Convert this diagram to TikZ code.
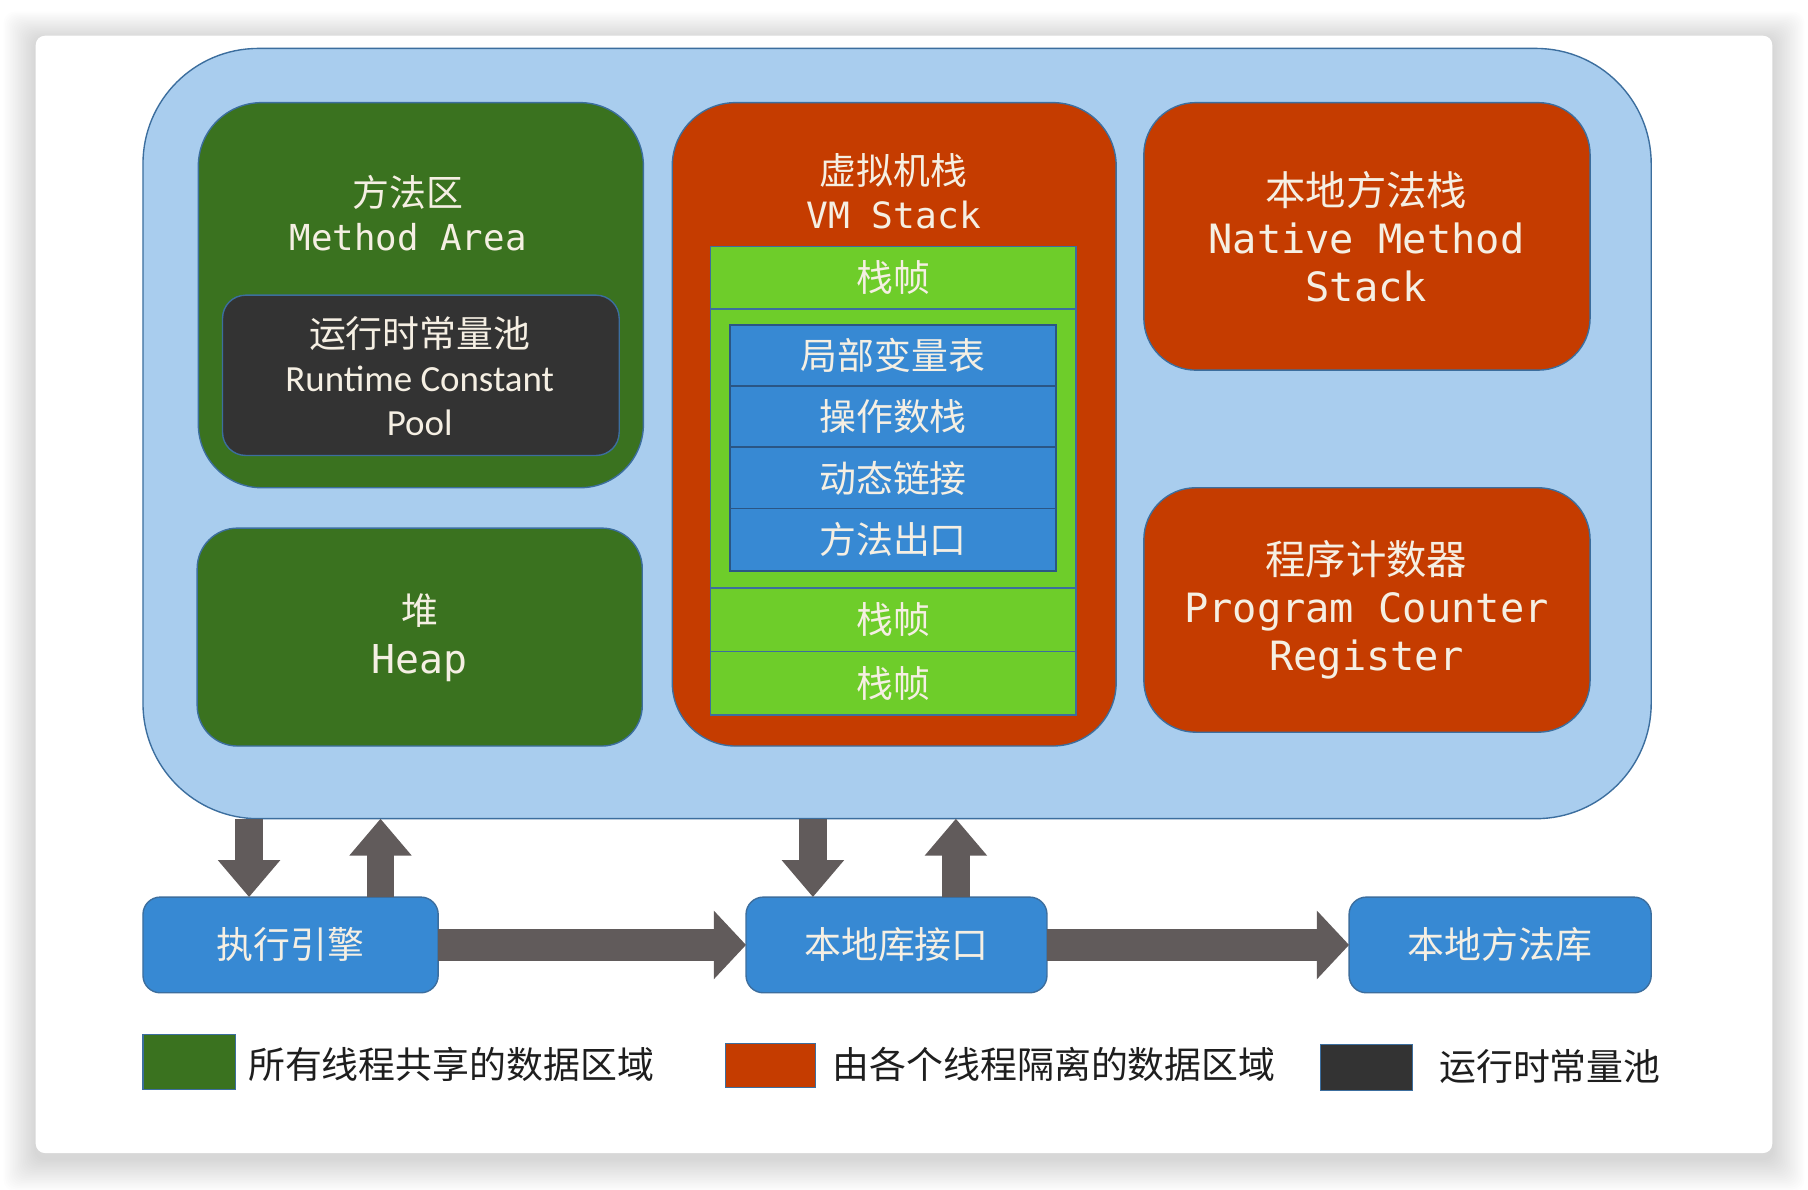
\documentclass[tikz,border=0pt]{standalone}
\usepackage{fontspec}
\newfontfamily\cjk{Noto Sans CJK SC}
\newfontfamily\monof{DejaVu Sans Mono}
\newfontfamily\calf{Carlito}
\usetikzlibrary{arrows.meta,calc}
\definecolor{bgblue}{HTML}{A9CDEE}
\definecolor{bordc}{HTML}{3C6E9E}
\definecolor{dgreen}{HTML}{3A721F}
\definecolor{dred}{HTML}{C53C00}
\definecolor{lgreen}{HTML}{6ECD2A}
\definecolor{mblue}{HTML}{3789D3}
\definecolor{slotb}{HTML}{2A5685}
\definecolor{pooldark}{HTML}{333333}
\definecolor{arrowg}{HTML}{615B5B}
\definecolor{cream}{HTML}{F5EFE3}
\definecolor{legtext}{HTML}{1E1E1E}
\tikzset{
  region/.style={draw=bordc, line width=1.2pt, inner sep=0pt, outer sep=0pt},
  greenreg/.style={region, fill=dgreen},
  redreg/.style={region, fill=dred},
  framebox/.style={region, fill=lgreen, minimum width=317pt, text=cream,
    font=\cjk\fontsize{32}{38}\selectfont},
  slot/.style={draw=slotb, line width=1.6pt, fill=mblue, minimum width=283pt,
    inner sep=0pt, outer sep=0pt, text=cream, font=\cjk\fontsize{32}{38}\selectfont},
  lbl/.style={text=cream, align=center, inner sep=0pt},
  bottombox/.style={region, fill=mblue, rounded corners=15pt, minimum height=83pt,
    text=cream, font=\cjk\fontsize{32}{38}\selectfont},
  varrow/.style={draw=arrowg, line width=24pt,
    -{Triangle[width=52pt,length=32pt]}},
  harrow/.style={draw=arrowg, line width=28pt,
    -{Triangle[width=58pt,length=28pt]}},
  legsq/.style={draw=bordc, line width=1pt, inner sep=0pt, outer sep=0pt},
  legtxt/.style={text=legtext, anchor=west, inner sep=0pt,
    font=\cjk\fontsize{32}{38}\selectfont},
}
\begin{document}
\begin{tikzpicture}[x=1pt,y=-1pt]
\useasboundingbox (0,0) rectangle (1568,1032);
\fill[white] (0,0) rectangle (1568,1032);
% soft shadow of the card
\foreach \i in {1,...,20}{
  \fill[black, opacity=0.009, rounded corners=10pt]
    ({31-1.4*\i},{31-1.2*\i+3}) rectangle ({1537+1.4*\i},{1000+1.4*\i+5});
}
\node[fill=white, rounded corners=8pt, minimum width=1506pt, minimum height=969pt,
  inner sep=0pt] (card) at (784,515.5) {};

% big light blue region
\node[region, fill=bgblue, rounded corners=100pt, minimum width=1308pt,
  minimum height=668pt] (big) at (778,376) {};

% method area
\node[greenreg, rounded corners=55pt, minimum width=386pt, minimum height=334pt]
  (ma) at (365,256) {};
\node[lbl, font=\fontsize{31}{38}\selectfont] (matext) at (354,185)
  {{\cjk\fontsize{32}{38}\selectfont 方法区}\\{\monof Method Area}};
\node[region, fill=pooldark, rounded corners=20pt, minimum width=344pt,
  minimum height=139pt] (pool) at (365,325.5) {};
\node[lbl, font=\fontsize{32}{38}\selectfont] (pooltext) at (364,326)
  {{\cjk 运行时常量池}\\{\calf Runtime Constant}\\{\calf Pool}};

% heap
\node[greenreg, rounded corners=35pt, minimum width=386pt, minimum height=189pt]
  (heap) at (364,552.5) {};
\node[lbl, font=\fontsize{34.5}{42}\selectfont] (heaptext) at (364,553)
  {{\cjk\fontsize{32}{42}\selectfont 堆}\\{\monof Heap}};

% VM stack
\node[redreg, rounded corners=55pt, minimum width=385pt, minimum height=558pt]
  (vm) at (775.5,368) {};
\node[lbl, font=\fontsize{31.4}{38}\selectfont] (vmtext) at (775,166)
  {{\cjk\fontsize{32}{38}\selectfont 虚拟机栈}\\{\monof VM Stack}};
\node[framebox, minimum height=54pt] (f1) at (774.5,241) {栈帧};
\node[framebox, minimum height=242pt] (f2) at (774.5,389) {};
\node[framebox, minimum height=55pt] (f3) at (774.5,537.5) {栈帧};
\node[framebox, minimum height=55pt] (f4) at (774.5,592.5) {栈帧};
\node[slot, minimum height=53pt] (s1) at (774.5,308.5) {局部变量表};
\node[slot, minimum height=53pt] (s2) at (774.5,361.5) {操作数栈};
\node[slot, minimum height=53pt] (s3) at (774.5,414.5) {动态链接};
\node[slot, minimum height=54pt] (s4) at (774.5,468) {方法出口};

% native method stack
\node[redreg, rounded corners=45pt, minimum width=387pt, minimum height=232pt]
  (nms) at (1185.5,205) {};
\node[lbl, font=\fontsize{35}{41.5}\selectfont] (nmstext) at (1185,205)
  {{\cjk 本地方法栈}\\{\monof Native Method}\\{\monof Stack}};

% program counter register
\node[redreg, rounded corners=45pt, minimum width=387pt, minimum height=212pt]
  (pc) at (1185.5,529) {};
\node[lbl, font=\fontsize{35}{41.5}\selectfont] (pctext) at (1185,529)
  {{\cjk 程序计数器}\\{\monof Program Counter}\\{\monof Register}};

% bottom boxes
\node[bottombox, minimum width=256pt] (ee) at (252,819.5) {执行引擎};
\node[bottombox, minimum width=261pt] (nli) at (777.5,819.5) {本地库接口};
\node[bottombox, minimum width=262pt] (nml) at (1301,819.5) {本地方法库};

% arrows
\coordinate (xa) at (216,0);
\coordinate (xb) at (330,0);
\coordinate (xc) at (705,0);
\coordinate (xd) at (829,0);
\draw[varrow] (big.south -| xa) -- (ee.north -| xa);
\draw[varrow] (ee.north -| xb) -- (big.south -| xb);
\draw[varrow] (big.south -| xc) -- (nli.north -| xc);
\draw[varrow] (nli.north -| xd) -- (big.south -| xd);
\draw[harrow] (ee.east) -- (nli.west);
\draw[harrow] (nli.east) -- (nml.west);

% legend
\node[legsq, fill=dgreen, minimum width=80pt, minimum height=48pt] (lg1) at (164,921) {};
\node[legtxt] (lt1) at (215,923) {所有线程共享的数据区域};
\node[legsq, fill=dred, minimum width=78pt, minimum height=38pt] (lg2) at (668,924) {};
\node[legtxt] (lt2) at (722,923) {由各个线程隔离的数据区域};
\node[legsq, fill=pooldark, minimum width=80pt, minimum height=40pt] (lg3) at (1185,926) {};
\node[legtxt] (lt3) at (1248,925) {运行时常量池};
\end{tikzpicture}
\end{document}
